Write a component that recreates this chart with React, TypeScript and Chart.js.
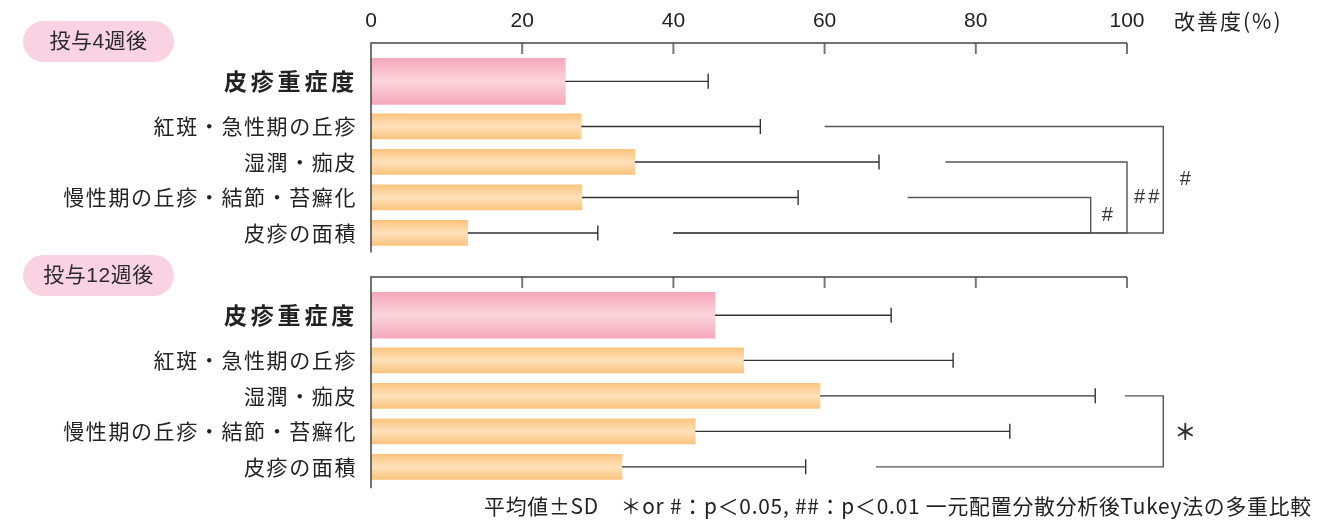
import React, { useEffect, useRef } from 'react';
import { Chart, registerables } from 'chart.js';

Chart.register(...registerables);

// ---- data ----
const categories = ['皮疹重症度', '紅斑・急性期の丘疹', '湿潤・痂皮', '慢性期の丘疹・結節・苔癬化', '皮疹の面積'];
const week4Mean = [25.7, 27.8, 34.9, 27.9, 12.8];
const week4SD = [18.9, 23.7, 32.3, 28.6, 17.2];
const week12Mean = [45.5, 49.3, 59.4, 42.9, 33.2];
const week12SD = [23.3, 27.7, 36.4, 41.6, 24.3];
const panelTitles = ['投与4週後', '投与12週後'];
const axisTitle = '改善度(%)';
const xMin = 0;
const xMax = 100;
const xStep = 20;
const footnote = '平均値±SD　＊or #：p＜0.05, ##：p＜0.01 一元配置分散分析後Tukey法の多重比較';

// significance annotations (rows are category indices, x values in %)
const week4Brackets = [
  { fromRow: 1, toRow: 4, fromX: 60, toX: 40, atX: 104.8, label: '#', labelX: 107.7 },
  { fromRow: 2, toRow: 4, fromX: 76, toX: 40, atX: 100, label: '##', labelX: 102.6 },
  { fromRow: 3, toRow: 4, fromX: 71, toX: 40, atX: 95.2, label: '#', labelX: 97.4 },
];
const week12Brackets = [
  { fromRow: 2, toRow: 4, fromX: 99.7, toX: 66.8, atX: 104.8, label: '＊', labelX: 107.7 },
];

// ---- layout (in y-scale units) ----
const PANEL_START = [0, 6.59];
const PANEL_AXIS_LEN = [5.9, 5.95];
const Y_MAX = 13;
const UNIT_PX = 35.5;
const rowPos = (panel: number, i: number) => PANEL_START[panel] + (i === 0 ? 1.08 : 2.35 + (i - 1));

const PINK_THICK = 46;
const ORANGE_THICK = 25;
const LATIN = '"Liberation Sans", Arial, "Noto Sans CJK JP", sans-serif';
const CJK = '"Noto Sans CJK JP", "Liberation Sans", sans-serif';

const panels = [
  { mean: week4Mean, sd: week4SD, brackets: week4Brackets },
  { mean: week12Mean, sd: week12SD, brackets: week12Brackets },
];

function gradientFill(edge: string, mid: string, thickness: number) {
  return (context: any) => {
    const chart = context.chart;
    if (!chart.chartArea || context.type !== 'data' || !context.raw) return edge;
    const yPix = chart.scales.y.getPixelForValue(context.raw.y);
    const g = chart.ctx.createLinearGradient(0, yPix - thickness / 2, 0, yPix + thickness / 2);
    g.addColorStop(0, edge);
    g.addColorStop(0.5, mid);
    g.addColorStop(1, edge);
    return g;
  };
}

const decorPlugin = {
  id: 'decor',
  afterDatasetsDraw(chart: any) {
    const { ctx } = chart;
    const xs = chart.scales.x;
    const ys = chart.scales.y;
    const px = (v: number) => xs.getPixelForValue(v);
    const py = (v: number) => ys.getPixelForValue(v);
    const tickVals: number[] = (xs.ticks && xs.ticks.length)
      ? xs.ticks.map((t: any) => t.value)
      : [0, 20, 40, 60, 80, 100];

    ctx.save();
    panels.forEach((panel, p) => {
      const yTop = py(PANEL_START[p]);
      const yBot = py(PANEL_START[p] + PANEL_AXIS_LEN[p]);

      // pill title
      const pillL = 23, pillR = 174, pillH = 41;
      const pc = yTop - 1.5;
      ctx.fillStyle = '#f9d3e2';
      ctx.beginPath();
      ctx.roundRect(pillL, pc - pillH / 2, pillR - pillL, pillH, pillH / 2);
      ctx.fill();
      ctx.fillStyle = '#2a2a2a';
      ctx.font = `21px ${LATIN}`;
      ctx.textAlign = 'center';
      ctx.textBaseline = 'middle';
      (ctx as any).letterSpacing = '0.5px';
      ctx.fillText(panelTitles[p], (pillL + pillR) / 2, pc + 1);
      (ctx as any).letterSpacing = '0px';

      // tick marks (inward) and top axis
      ctx.strokeStyle = '#777';
      ctx.lineWidth = 2;
      tickVals.forEach((v) => {
        if (v === xMin) return;
        ctx.beginPath();
        ctx.moveTo(px(v), yTop);
        ctx.lineTo(px(v), yTop + 11);
        ctx.stroke();
      });
      ctx.strokeStyle = '#444';
      ctx.lineWidth = 1.5;
      ctx.beginPath();
      ctx.moveTo(px(xMax), yTop);
      ctx.lineTo(px(xMin), yTop);
      ctx.lineTo(px(xMin), yBot);
      ctx.stroke();

      // tick labels only on the first panel
      if (p === 0) {
        ctx.fillStyle = '#222';
        ctx.font = `21px ${LATIN}`;
        ctx.textAlign = 'center';
        ctx.textBaseline = 'middle';
        const tks = xs.ticks && xs.ticks.length ? xs.ticks : tickVals.map((v) => ({ value: v, label: String(v) }));
        tks.forEach((t: any) => ctx.fillText(String(t.label ?? t.value), px(t.value), yTop - 22));
        ctx.textAlign = 'left';
        ctx.font = `21px ${CJK}`;
        (ctx as any).letterSpacing = '2px';
        ctx.fillText(axisTitle, px(xMax) + 47, yTop - 22);
        (ctx as any).letterSpacing = '0px';
      }

      // category labels
      categories.forEach((c, i) => {
        const y = py(rowPos(p, i));
        ctx.fillStyle = '#222';
        ctx.textAlign = 'right';
        ctx.textBaseline = 'middle';
        if (i === 0) {
          ctx.font = `bold 23px ${CJK}`;
          (ctx as any).letterSpacing = '3.8px';
          ctx.fillText(c, 358, y);
        } else {
          ctx.font = `21px ${CJK}`;
          (ctx as any).letterSpacing = '1.6px';
          ctx.fillText(c, 357, y);
        }
        (ctx as any).letterSpacing = '0px';
      });

      // error bars
      ctx.strokeStyle = '#333';
      ctx.lineWidth = 1.4;
      panel.mean.forEach((m, i) => {
        const y = py(rowPos(p, i));
        const x0 = px(m);
        const x1 = px(m + panel.sd[i]);
        ctx.beginPath();
        ctx.moveTo(x0, y);
        ctx.lineTo(x1, y);
        ctx.moveTo(x1, y - 7.5);
        ctx.lineTo(x1, y + 7.5);
        ctx.stroke();
      });

      // significance brackets
      ctx.strokeStyle = '#555';
      ctx.lineWidth = 1.4;
      panel.brackets.forEach((b) => {
        const y1 = py(rowPos(p, b.fromRow));
        const y2 = py(rowPos(p, b.toRow));
        ctx.beginPath();
        ctx.moveTo(px(b.fromX), y1);
        ctx.lineTo(px(b.atX), y1);
        ctx.lineTo(px(b.atX), y2);
        ctx.lineTo(px(b.toX), y2);
        ctx.stroke();
        ctx.fillStyle = '#333';
        ctx.textAlign = 'center';
        ctx.textBaseline = 'middle';
        if (b.label === '＊') {
          ctx.font = `bold 22px ${CJK}`;
        } else {
          ctx.font = `20px ${LATIN}`;
        }
        (ctx as any).letterSpacing = b.label === '##' ? '3px' : '0px';
        ctx.fillText(b.label, px(b.labelX) + (b.label === '##' ? 1.5 : 0), (y1 + y2) / 2);
        (ctx as any).letterSpacing = '0px';
      });
    });

    // footnote
    ctx.fillStyle = '#222';
    ctx.font = `21px ${CJK}`;
    ctx.textAlign = 'left';
    ctx.textBaseline = 'middle';
    (ctx as any).letterSpacing = '0.8px';
    ctx.fillText(footnote, 484, 506, 828);
    (ctx as any).letterSpacing = '0px';
    ctx.restore();
  },
};

export default function App() {
  const ref = useRef<HTMLCanvasElement>(null);
  useEffect(() => {
    document.body.style.margin = '0';
    if (!ref.current) return;
    const pinkData = [
      { x: week4Mean[0], y: rowPos(0, 0) },
      { x: week12Mean[0], y: rowPos(1, 0) },
    ];
    const orangeData: { x: number; y: number }[] = [];
    [week4Mean, week12Mean].forEach((arr, p) => {
      arr.forEach((v, i) => {
        if (i > 0) orangeData.push({ x: v, y: rowPos(p, i) });
      });
    });
    const chart = new Chart(ref.current, {
      type: 'bar',
      data: {
        datasets: [
          {
            label: categories[0],
            data: pinkData as any,
            barThickness: PINK_THICK,
            grouped: false,
            backgroundColor: gradientFill('#f5a7bb', '#fbd4dc', PINK_THICK),
            borderWidth: 0,
          } as any,
          {
            label: 'others',
            data: orangeData as any,
            barThickness: ORANGE_THICK,
            grouped: false,
            backgroundColor: gradientFill('#fcc47e', '#fee1bb', ORANGE_THICK),
            borderWidth: 0,
          } as any,
        ],
      },
      options: {
        animation: false,
        responsive: false,
        maintainAspectRatio: false,
        devicePixelRatio: 1,
        indexAxis: 'y',
        layout: { padding: { left: 371, right: 207, top: 43, bottom: 523 - 43 - Y_MAX * UNIT_PX } },
        scales: {
          x: { type: 'linear', min: xMin, max: xMax, offset: false, ticks: { stepSize: xStep }, display: false },
          y: { type: 'linear', min: 0, max: Y_MAX, offset: false, reverse: true, display: false },
        },
        plugins: { legend: { display: false }, tooltip: { enabled: false } },
      } as any,
      plugins: [decorPlugin],
    });
    return () => chart.destroy();
  }, []);
  return (
    <canvas
      ref={ref}
      width={1334}
      height={523}
      style={{ position: 'absolute', left: 0, top: 0, width: 1334, height: 523, display: 'block' }}
    />
  );
}
